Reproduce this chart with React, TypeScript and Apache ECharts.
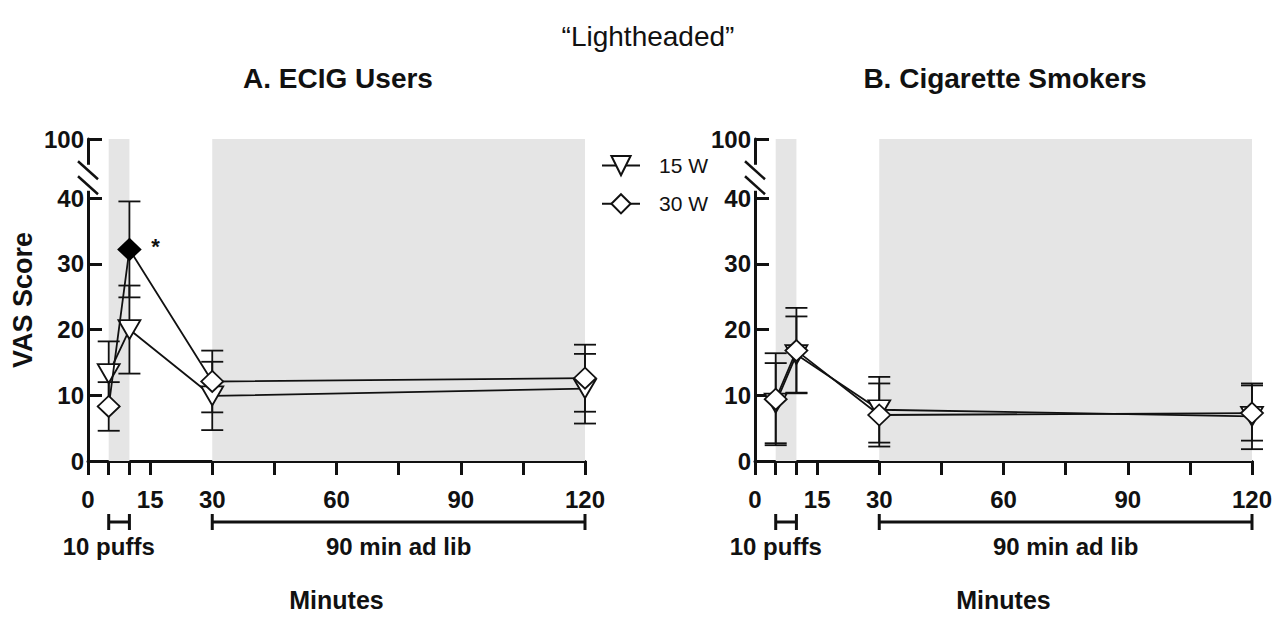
import React, { useEffect, useRef } from 'react';
import * as echarts from 'echarts';

// ---- data ----
const timesMin = [5, 10, 30, 120];
const ecig15Mean = [13.3, 20.0, 9.9, 11.0];
const ecig15Err = [4.9, 6.7, 5.2, 5.3];
const ecig30Mean = [8.3, 32.2, 12.1, 12.6];
const ecig30Err = [3.7, 7.3, 4.7, 5.1];
const ecig30Sig = [false, true, false, false];
const cig15Mean = [8.8, 16.2, 7.8, 6.8];
const cig15Err = [6.1, 5.8, 5.0, 5.0];
const cig30Mean = [9.4, 16.8, 7.0, 7.3];
const cig30Err = [7.0, 6.5, 4.8, 4.2];

const xTickValues = [0, 5, 10, 15, 30, 45, 60, 75, 90, 105, 120];
const xLabelValues = [0, 15, 30, 60, 90, 120];
const yTickValues = [0, 10, 20, 30, 40];
const yTopLabel = '100';
const shadedPeriods = [[5, 10], [30, 120]];
const phases = [
  { label: '10 puffs', start: 5, end: 10, labelAt: 5 },
  { label: '90 min ad lib', start: 30, end: 120, labelAt: 75 },
];
const chartTitle = '\u201CLightheaded\u201D';
const panelTitles = ['A. ECIG Users', 'B. Cigarette Smokers'];
const seriesNames = ['15 W', '30 W'];
const xAxisName = 'Minutes';
const yAxisName = 'VAS Score';

// ---- layout ----
const FONT = 'Liberation Sans, Arial, Helvetica, sans-serif';
const Y_TOP = 49; // position on the broken axis where "100" sits
const BREAK_MID = 43.1;
const grids = [
  { left: 88, top: 139, width: 497, height: 330 },
  { left: 755, top: 139, width: 497, height: 330 },
];
const INK = '#111';

export default function App() {
  const ref = useRef<HTMLDivElement>(null);
  useEffect(() => {
    document.body.style.margin = '0';
    const chart = echarts.init(ref.current!, null, { renderer: 'svg' });

    const panels = [
      { m15: ecig15Mean, e15: ecig15Err, m30: ecig30Mean, e30: ecig30Err, sig: ecig30Sig },
      { m15: cig15Mean, e15: cig15Err, m30: cig30Mean, e30: cig30Err, sig: [false, false, false, false] },
    ];

    const errRender = (params: any, api: any) => {
      const x = api.value(0), lo = api.value(1), hi = api.value(2);
      const p1 = api.coord([x, hi]);
      const p2 = api.coord([x, lo]);
      const hw = 11;
      const st = { stroke: INK, lineWidth: 1.8 };
      return {
        type: 'group',
        children: [
          { type: 'line', shape: { x1: p1[0], y1: p1[1], x2: p2[0], y2: p2[1] }, style: st },
          { type: 'line', shape: { x1: p1[0] - hw, y1: p1[1], x2: p1[0] + hw, y2: p1[1] }, style: st },
          { type: 'line', shape: { x1: p2[0] - hw, y1: p2[1], x2: p2[0] + hw, y2: p2[1] }, style: st },
        ],
      };
    };

    const xAxes = grids.map((_, i) => ({
      type: 'value', gridIndex: i, min: 0, max: 120,
      axisLine: { lineStyle: { color: INK, width: 3 } },
      axisTick: { customValues: xTickValues, length: 14, lineStyle: { color: INK, width: 3 } },
      axisLabel: { customValues: xLabelValues, color: INK, fontSize: 24, fontWeight: 'bold', fontFamily: FONT, margin: 26 },
      splitLine: { show: false },
      name: xAxisName, nameLocation: 'middle', nameGap: 126,
      nameTextStyle: { color: INK, fontSize: 25, fontWeight: 'bold', fontFamily: FONT },
    }));
    const yAxes = grids.map((_, i) => ({
      type: 'value', gridIndex: i, min: 0, max: Y_TOP,
      axisLine: { show: true, lineStyle: { color: INK, width: 3 } },
      axisTick: { show: true, inside: true, customValues: [...yTickValues, Y_TOP], length: 14, lineStyle: { color: INK, width: 3 } },
      axisLabel: {
        customValues: [...yTickValues, Y_TOP], color: INK, fontSize: 24, fontWeight: 'bold', fontFamily: FONT, margin: 4,
        formatter: (v: number) => (v === Y_TOP ? yTopLabel : String(v)),
      },
      splitLine: { show: false },
      name: i === 0 ? yAxisName : '', nameLocation: 'middle', nameGap: 52, nameRotate: 90,
      nameTextStyle: { color: INK, fontSize: 27, fontWeight: 'bold', fontFamily: FONT },
    }));

    const series: any[] = [];
    panels.forEach((p, i) => {
      series.push({
        type: 'line', xAxisIndex: i, yAxisIndex: i, data: [], silent: true, z: 0,
        markArea: {
          silent: true, itemStyle: { color: '#e5e5e5' },
          data: shadedPeriods.map(([a, b]) => [{ xAxis: a }, { xAxis: b }]),
        },
      });
      series.push({
        type: 'custom', xAxisIndex: i, yAxisIndex: i, z: 1, renderItem: errRender,
        encode: { x: 0, y: [1, 2] },
        data: timesMin.map((t, k) => [t, p.m15[k] - p.e15[k], p.m15[k] + p.e15[k]]),
      });
      series.push({
        type: 'custom', xAxisIndex: i, yAxisIndex: i, z: 1, renderItem: errRender,
        encode: { x: 0, y: [1, 2] },
        data: timesMin.map((t, k) => [t, p.m30[k] - p.e30[k], p.m30[k] + p.e30[k]]),
      });
      series.push({
        type: 'line', name: seriesNames[0], xAxisIndex: i, yAxisIndex: i, z: 3,
        symbol: 'triangle', symbolRotate: 180, symbolSize: [22, 19], showAllSymbol: true,
        lineStyle: { color: INK, width: 1.8 },
        itemStyle: { color: '#fff', borderColor: INK, borderWidth: 1.8 },
        data: timesMin.map((t, k) => [t, p.m15[k]]),
      });
      series.push({
        type: 'line', name: seriesNames[1], xAxisIndex: i, yAxisIndex: i, z: 4,
        symbol: 'diamond', symbolSize: [22, 21], showAllSymbol: true,
        lineStyle: { color: INK, width: 1.8 },
        itemStyle: { color: '#fff', borderColor: INK, borderWidth: 1.8 },
        data: timesMin.map((t, k) =>
          p.sig[k]
            ? {
                value: [t, p.m30[k]],
                itemStyle: { color: '#000', borderColor: '#000' },
                label: { show: true, formatter: '*', position: 'right', distance: 10, color: INK, fontSize: 22, fontWeight: 'bold', fontFamily: FONT, offset: [0, -3] },
              }
            : [t, p.m30[k]]
        ),
      });
    });

    chart.setOption({
      animation: false,
      title: [
        { text: chartTitle, left: 643, top: 17, textAlign: 'center', textStyle: { fontSize: 28, fontWeight: 'normal', color: INK, fontFamily: FONT } },
        { text: panelTitles[0], left: 333, top: 59, textAlign: 'center', textStyle: { fontSize: 28, fontWeight: 'bold', color: INK, fontFamily: FONT } },
        { text: panelTitles[1], left: 1000, top: 59, textAlign: 'center', textStyle: { fontSize: 28, fontWeight: 'bold', color: INK, fontFamily: FONT } },
      ],
      legend: {
        data: seriesNames, orient: 'vertical', left: 596, top: 150,
        itemWidth: 38, itemHeight: 24, itemGap: 17,
        textStyle: { fontSize: 21, color: INK, fontFamily: FONT, padding: [0, 0, 0, 14] },
      },
      grid: grids,
      xAxis: xAxes,
      yAxis: yAxes,
      series,
    });

    // annotations: phase brackets + axis break marks
    const graphic: any[] = [];
    grids.forEach((_, i) => {
      const finder = { xAxisIndex: i, yAxisIndex: i };
      const y0 = chart.convertToPixel(finder as any, [0, 0])[1];
      const by = y0 + 61;
      phases.forEach((ph) => {
        const xa = chart.convertToPixel(finder as any, [ph.start, 0])[0];
        const xb = chart.convertToPixel(finder as any, [ph.end, 0])[0];
        const xl = chart.convertToPixel(finder as any, [ph.labelAt, 0])[0];
        const st = { stroke: INK, lineWidth: 3 };
        graphic.push({ type: 'line', shape: { x1: xa, y1: by, x2: xb, y2: by }, style: st });
        graphic.push({ type: 'line', shape: { x1: xa, y1: by - 8, x2: xa, y2: by + 8 }, style: st });
        graphic.push({ type: 'line', shape: { x1: xb, y1: by - 8, x2: xb, y2: by + 8 }, style: st });
        graphic.push({
          type: 'text', x: xl, y: by + 24,
          style: { text: ph.label, fill: INK, font: `bold 24px ${FONT}`, textAlign: 'center', textVerticalAlign: 'middle' },
        });
      });
      const [ax, my] = chart.convertToPixel(finder as any, [0, BREAK_MID]);
      graphic.push({ type: 'rect', shape: { x: ax - 3, y: my - 13, width: 6, height: 26 }, style: { fill: '#fff' }, z: 100 });
      [-7.5, 7.5].forEach((d) => {
        graphic.push({
          type: 'line', z: 101,
          shape: { x1: ax - 10, y1: my + d - 9, x2: ax + 10, y2: my + d + 9 },
          style: { stroke: INK, lineWidth: 2.5 },
        });
      });
    });
    chart.setOption({ graphic });

    return () => chart.dispose();
  }, []);
  return <div ref={ref} style={{ width: 1286, height: 617 }} />;
}
